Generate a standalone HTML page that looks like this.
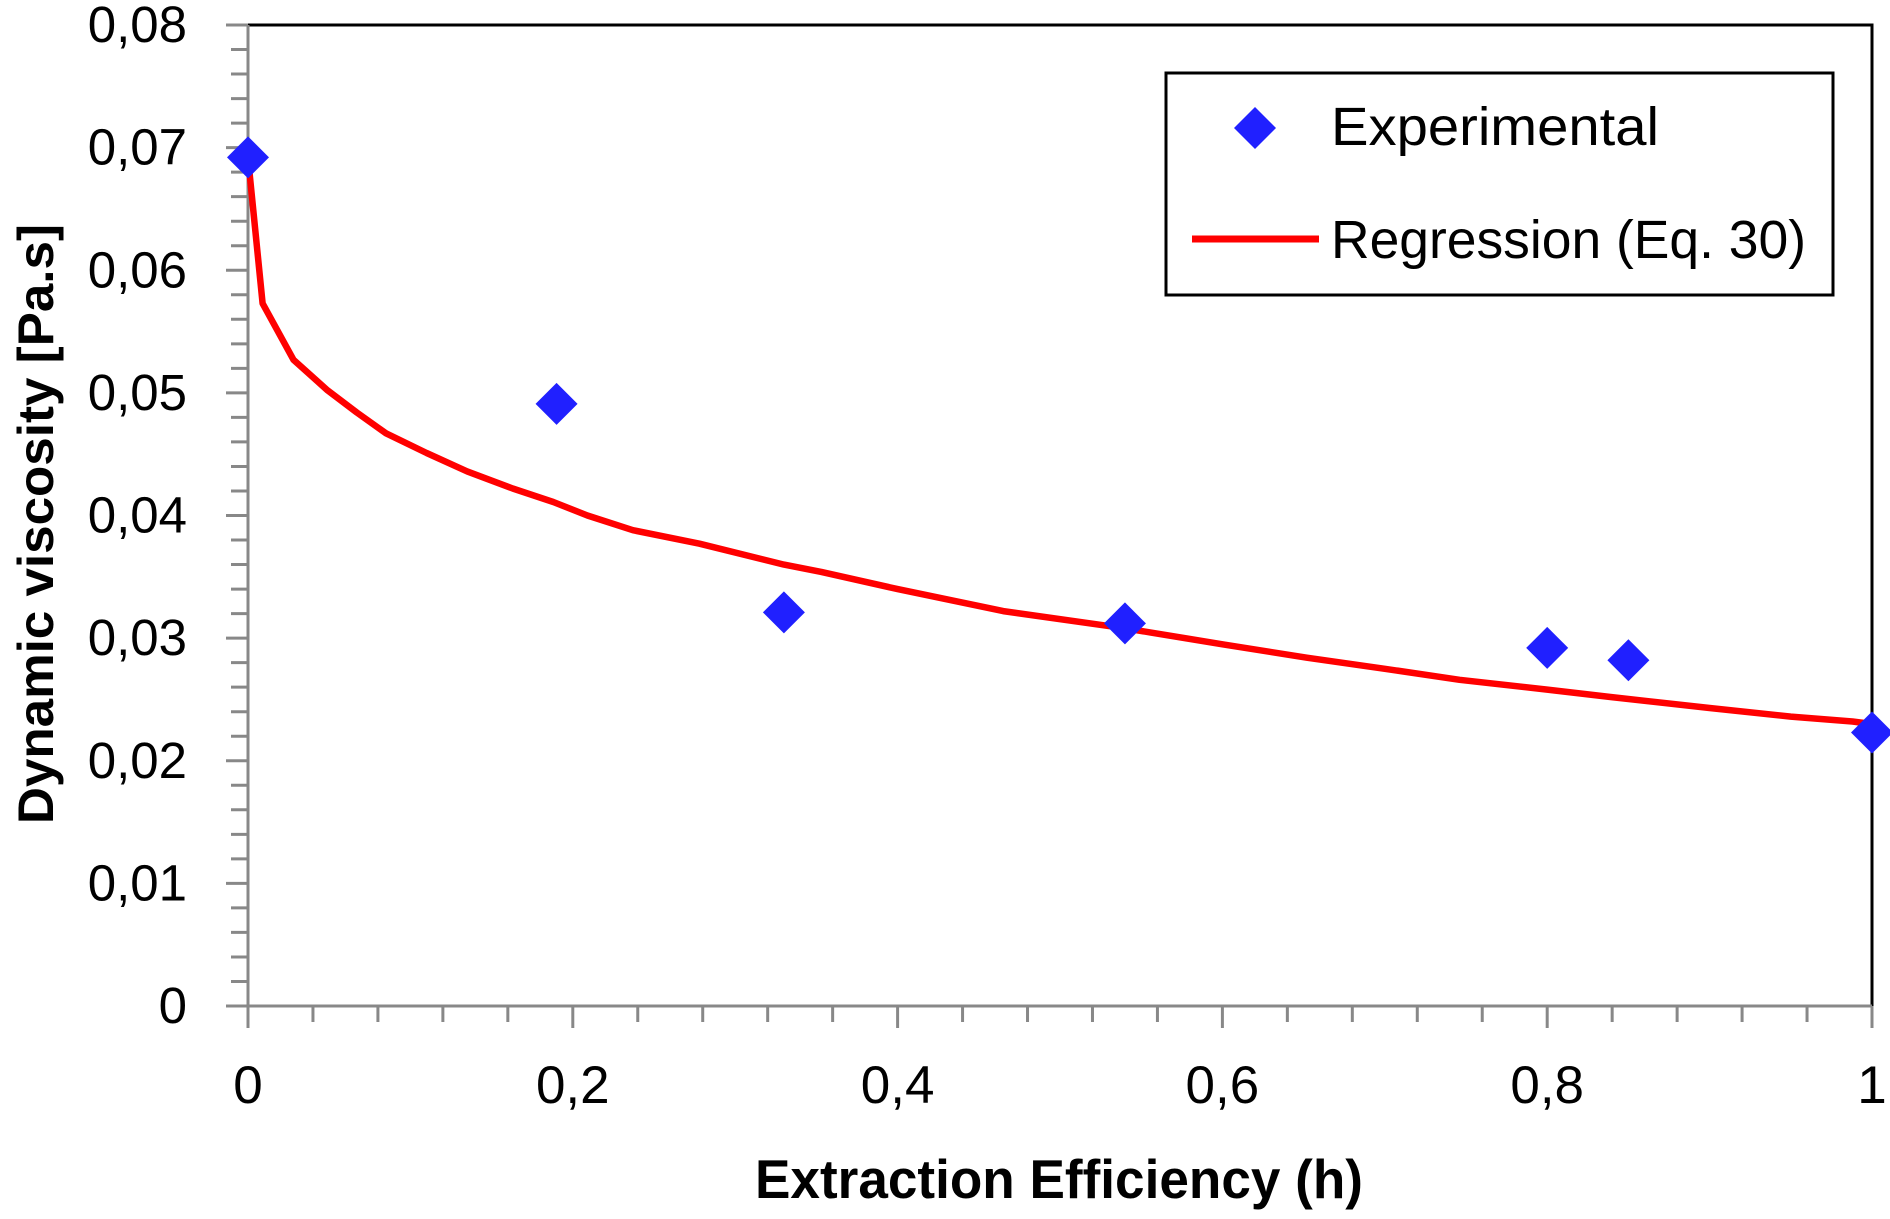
<!DOCTYPE html>
<html><head><meta charset="utf-8"><style>
html,body{margin:0;padding:0;background:#fff}
svg{display:block}
text{font-family:"Liberation Sans",sans-serif;fill:#000}
</style></head><body>
<svg id="chart" width="1890" height="1219" viewBox="0 0 1890 1219" xmlns="http://www.w3.org/2000/svg">
<g id="grid"></g>
<g id="curve"></g>
<g id="points"></g>
<g id="legend">
  <rect x="1166" y="73" width="667" height="222" fill="#fff" stroke="#000" stroke-width="3"/>
  <path d="M1255 107 L1276 128 L1255 149 L1234 128 Z" fill="#2020ff"/>
  <text x="1331" y="145" font-size="54" textLength="328" lengthAdjust="spacingAndGlyphs">Experimental</text>
  <line x1="1192" y1="239" x2="1319" y2="239" stroke="#ff0000" stroke-width="7"/>
  <text x="1331" y="258" font-size="54" textLength="475" lengthAdjust="spacingAndGlyphs">Regression (Eq. 30)</text>
</g>
<text x="755" y="1198" font-size="55" font-weight="bold" textLength="608" lengthAdjust="spacingAndGlyphs">Extraction Efficiency (h)</text>
<text transform="translate(53,524) rotate(-90)" x="-300" y="0" font-size="50" font-weight="bold" textLength="600" lengthAdjust="spacingAndGlyphs">Dynamic viscosity [Pa.s]</text>
</svg>
<script>
const expX = [0, 0.19, 0.33, 0.54, 0.80, 0.85, 1.0];
const expY = [0.0692, 0.0491, 0.0321, 0.0312, 0.0292, 0.0282, 0.0223];
const regX = [0, 0.009, 0.028, 0.049, 0.067, 0.085, 0.11, 0.135, 0.163, 0.188, 0.209, 0.237, 0.278, 0.33, 0.353, 0.40, 0.465, 0.54, 0.60, 0.652, 0.70, 0.746, 0.80, 0.839, 0.90, 0.95, 0.988, 1.0];
const regY = [0.0692, 0.0573, 0.0527, 0.0502, 0.0484, 0.0467, 0.0451, 0.0436, 0.0422, 0.0411, 0.0400, 0.0388, 0.0377, 0.0360, 0.0354, 0.0340, 0.0322, 0.0308, 0.0295, 0.0284, 0.0275, 0.0266, 0.0258, 0.0252, 0.0243, 0.0236, 0.0232, 0.0230];
const xTickLabels = ["0", "0,2", "0,4", "0,6", "0,8", "1"];
const yTickLabels = ["0", "0,01", "0,02", "0,03", "0,04", "0,05", "0,06", "0,07", "0,08"];

const NS = "http://www.w3.org/2000/svg";
const L = 248, R = 1872, T = 25, B = 1006;
const xMin = 0, xMax = 1, yMin = 0, yMax = 0.08;
function sx(v){ return L + (v - xMin) / (xMax - xMin) * (R - L); }
function sy(v){ return B - (v - yMin) / (yMax - yMin) * (B - T); }
function mk(tag, attrs, parent){
  const e = document.createElementNS(NS, tag);
  for (const k in attrs) e.setAttribute(k, attrs[k]);
  parent.appendChild(e);
  return e;
}
const grid = document.getElementById('grid');
// frame
let fr = mk('path', {d:`M${L} ${T} L${R} ${T} L${R} ${B}`, fill:'none', stroke:'#000', 'stroke-width':3}, grid);


// y ticks
for (let i = 0; i <= 40; i++) {
  const v = i * 0.002, y = sy(v), major = i % 5 === 0;
  const t = mk('line', {x1: major ? L-22 : L-17, y1:y, x2:L, y2:y, stroke:'#888', 'stroke-width':3}, grid);
  
  
}
yTickLabels.forEach((lab, i) => {
  const t = mk('text', {x:187, y: sy(i*0.01) + 17, 'font-size':51, 'text-anchor':'end'}, grid);
  t.textContent = lab;
  
  
});
// x ticks
for (let i = 0; i <= 25; i++) {
  const v = i * 0.04, x = sx(v), major = i % 5 === 0;
  const t = mk('line', {x1:x, y1:B, x2:x, y2: major ? B+22 : B+16, stroke:'#888', 'stroke-width':3}, grid);
  
  
}
xTickLabels.forEach((lab, i) => {
  const t = mk('text', {x: sx(i*0.2), y:1103, 'font-size':53, 'text-anchor':'middle'}, grid);
  t.textContent = lab;
  
  
});
// axes
let ya = mk('line', {x1:L, y1:T, x2:L, y2:B, stroke:'#888', 'stroke-width':3}, grid);


let xa = mk('line', {x1:L, y1:B, x2:R, y2:B, stroke:'#888', 'stroke-width':3}, grid);


// regression
const pts = regX.map((x, i) => `${sx(x).toFixed(1)},${sy(regY[i]).toFixed(1)}`).join(' ');
const pl = mk('polyline', {points: pts, fill:'none', stroke:'#ff0000', 'stroke-width':6.5, 'stroke-linejoin':'round'}, document.getElementById('curve'));


// points
const pg = document.getElementById('points');
expX.forEach((x, i) => {
  const cx = sx(x), cy = sy(expY[i]), r = 21;
  const d = mk('path', {d:`M${cx} ${cy-r} L${cx+r} ${cy} L${cx} ${cy+r} L${cx-r} ${cy} Z`, fill:'#2020ff'}, pg);
  
  
});
</script>
</body></html>
